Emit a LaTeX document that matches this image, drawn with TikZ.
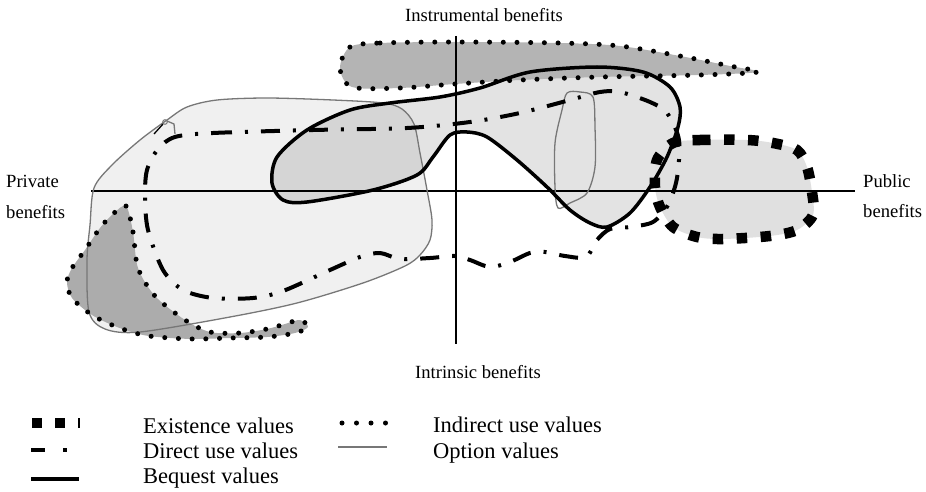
\documentclass[tikz,border=0pt]{standalone}
\usepackage{fontspec}
\setmainfont{Liberation Serif}
\definecolor{optfill}{HTML}{F0F0F0}
\definecolor{indfill}{HTML}{ACACAC}
\definecolor{bandfill}{HTML}{B4B4B4}
\definecolor{extfill}{HTML}{E0E0E0}
\definecolor{optline}{HTML}{777777}
\tikzset{
  optionline/.style={draw=optline,line width=1.3pt},
  directline/.style={draw=black,line width=4pt,dash pattern=on 19pt off 13pt on 3pt off 13pt},
  bequestline/.style={draw=black,line width=3.5pt},
  existline/.style={draw=black,line width=10.5pt,dash pattern=on 10.5pt off 13.5pt},
  indirectline/.style={draw=black,line width=5pt,line cap=round,dash pattern=on 0pt off 13.7pt},
  axisline/.style={draw=black,line width=1.3pt},
  lbl/.style={inner sep=0pt,anchor=base west,font=\fontsize{18.6}{20}\selectfont},
  leg/.style={inner sep=0pt,anchor=base west,font=\fontsize{22.5}{24}\selectfont},
}
\begin{document}
\begin{tikzpicture}[x=1pt,y=-1pt]
\useasboundingbox (0,0) rectangle (926,492);
% ---------- fills ----------
\fill[optfill] plot[smooth cycle] coordinates {(140,140) (167,120) (187,107) (217,100) (267,98) (333,100) (383,103) (402,109) (414,124) (420,153) (427,190) (432,220) (430,240) (420,255) (405,266) (363,283) (297,303) (230,317) (140,332) (105,329) (89,312) (87,260) (90,225) (94,188) (112,165)};
\fill[black,fill opacity=0.11] plot[smooth cycle] coordinates {(272,183) (277,157) (307,130) (350,110) (390,103) (440,97) (480,88) (530,72) (597,67) (643,72) (670,87) (680,107) (678,127) (667,157) (650,187) (630,213) (607,227) (590,223) (570,210) (547,187) (517,160) (487,137) (467,132) (450,135) (433,157) (417,175) (373,190) (307,202) (283,200)};
\fill[extfill] plot[smooth cycle] coordinates {(673,143) (700,140) (747,140) (773,143) (797,150) (807,167) (812,192) (813,215) (797,230) (770,236) (723,239) (697,237) (673,227) (660,207) (655,187) (657,160)};
\fill[bandfill] plot[smooth cycle] coordinates {(350,47) (380,43) (455,42) (560,43) (620,46) (680,56) (730,66) (758,72) (700,75) (600,77) (520,80) (455,84) (400,88) (352,87) (340,68)};
\fill[indfill] plot[smooth cycle] coordinates {(126,206) (133,232) (138,268) (155,296) (185,320) (210,332) (240,333) (267,329) (285,324) (300,320) (308,327) (295,333) (267,337) (230,338) (197,339) (170,338) (143,335) (117,327) (92,315) (72,298) (67,282) (72,268) (85,250) (100,228) (113,214)};
% ---------- axes ----------
\coordinate (hl) at (91,191);
\coordinate (hr) at (855,191);
\coordinate (vt) at (456,36);
\coordinate (vb) at (456,344);
\draw[axisline] (hl) -- (hr);
\draw[axisline] (vt) -- (vb);
% ---------- outlines ----------
\draw[optionline] plot[smooth cycle] coordinates {(140,140) (167,120) (187,107) (217,100) (267,98) (333,100) (383,103) (402,109) (414,124) (420,153) (427,190) (432,220) (430,240) (420,255) (405,266) (363,283) (297,303) (230,317) (140,332) (105,329) (89,312) (87,260) (90,225) (94,188) (112,165)};
\draw[black,line width=1.3pt] (154,134) -- (163,124);
\draw[optionline,line width=1pt] (165,122) circle (2.3);
\draw[optionline] (167,121) -- (174,124) -- (175,134);
\draw[optionline] plot[smooth cycle] coordinates {(567,93) (580,92) (593,97) (595,127) (595,167) (587,193) (570,203) (558,208) (555,187) (555,143) (562,110)};
\draw[directline] plot[smooth cycle] coordinates {(175,137) (213,133) (313,130) (407,128) (470,122) (520,113) (570,100) (600,92) (620,92) (650,102) (667,113) (679,140) (677,178) (668,205) (653,222) (630,227) (610,229) (597,240) (586,257) (565,256) (545,252) (530,253) (510,262) (490,267) (470,260) (455,256) (430,258) (400,259) (380,253) (360,257) (330,270) (283,291) (253,298) (213,298) (183,290) (163,270) (148,230) (145,197) (147,170) (158,149)};
\draw[bequestline] plot[smooth cycle] coordinates {(272,183) (277,157) (307,130) (350,110) (390,103) (440,97) (480,88) (530,72) (597,67) (643,72) (670,87) (680,107) (678,127) (667,157) (650,187) (630,213) (607,227) (590,223) (570,210) (547,187) (517,160) (487,137) (467,132) (450,135) (433,157) (417,175) (373,190) (307,202) (283,200)};
\draw[existline] plot[smooth cycle] coordinates {(673,143) (700,140) (747,140) (773,143) (797,150) (807,167) (812,192) (813,215) (797,230) (770,236) (723,239) (697,237) (673,227) (660,207) (655,187) (657,160)};
\draw[indirectline] plot[smooth cycle] coordinates {(350,47) (380,43) (455,42) (560,43) (620,46) (680,56) (730,66) (758,72) (700,75) (600,77) (520,80) (455,84) (400,88) (352,87) (340,68)};
\draw[indirectline] plot[smooth cycle] coordinates {(126,206) (133,232) (138,268) (155,296) (185,320) (210,332) (240,333) (267,329) (285,324) (300,320) (308,327) (295,333) (267,337) (230,338) (197,339) (170,338) (143,335) (117,327) (92,315) (72,298) (67,282) (72,268) (85,250) (100,228) (113,214)};
% ---------- labels ----------
\node[lbl] (instr) at (405,22) {Instrumental benefits};
\node[lbl] (intr) at (415,378) {Intrinsic benefits};
\node[lbl] (priv1) at (6,187) {Private};
\node[lbl] (priv2) at (6,218) {benefits};
\node[lbl] (pub1) at (863,187) {Public};
\node[lbl] (pub2) at (863,217) {benefits};
% ---------- legend ----------
\coordinate (e1) at (32,422.5); \coordinate (e2) at (79.5,422.5);
\draw[black,line width=10pt,dash pattern=on 10pt off 13pt] (e1) -- (e2);
\coordinate (d1) at (31,450); \coordinate (d2) at (67,450);
\draw[black,line width=4pt,dash pattern=on 14pt off 18pt on 4pt off 10pt] (d1) -- (d2);
\coordinate (b1) at (31,479); \coordinate (b2) at (79,479);
\draw[bequestline] (b1) -- (b2);
\coordinate (i1) at (342,423); \coordinate (i2) at (385.5,423);
\draw[black,line width=5pt,line cap=round,dash pattern=on 0pt off 14.5pt] (i1) -- (i2);
\coordinate (o1) at (338,447); \coordinate (o2) at (387,447);
\draw[optionline,line width=1.6pt] (o1) -- (o2);
\node[leg] (lex) at (143,433) {Existence values};
\node[leg] (ldi) at (143,458) {Direct use values};
\node[leg] (lbe) at (143,483) {Bequest values};
\node[leg] (lin) at (433,432) {Indirect use values};
\node[leg] (lop) at (433,458) {Option values};
\end{tikzpicture}
\end{document}
